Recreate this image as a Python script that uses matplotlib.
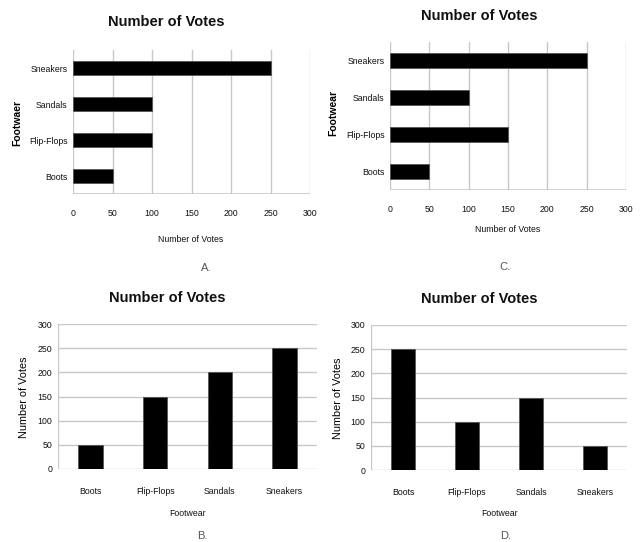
import matplotlib
matplotlib.use("Agg")
import matplotlib.pyplot as plt
import numpy as np

plt.rcParams['font.family'] = ['Liberation Sans', 'DejaVu Sans']

footwear = ['Boots', 'Flip-Flops', 'Sandals', 'Sneakers']

votes_a = [50, 100, 100, 250]
votes_b = [50, 150, 200, 250]
votes_c = [50, 150, 100, 250]
votes_d = [250, 100, 150, 50]

value_ticks = [0, 50, 100, 150, 200, 250, 300]

W, H = 642, 542
GRID = '#c8c8c8'

fig = plt.figure(figsize=(W / 100, H / 100), dpi=100)


def box(left, top, right, bottom):
    # pixel box -> figure fraction rect
    return [left / W, 1 - bottom / H, (right - left) / W, (bottom - top) / H]


def put(x, y, s, **kw):
    fig.text(x / W, 1 - y / H, s, ha='center', va='center', **kw)


def style(ax):
    for side in ax.spines.values():
        side.set_visible(False)
    ax.tick_params(length=0, labelsize=6.3, pad=4, labelcolor='#111111')
    ax.set_axisbelow(True)


def hbar_panel(rect, values):
    ax = fig.add_axes(box(*rect))
    pos = np.arange(len(footwear))
    ax.barh(pos, values, height=0.38, color='black', edgecolor='#555555', linewidth=0.6)
    ax.set_xlim(0, 300)
    ax.set_ylim(-0.5, len(footwear) - 0.5)
    ax.set_xticks(value_ticks)
    ax.set_yticks(pos, footwear)
    ax.grid(axis='x', color=GRID, linewidth=1)
    style(ax)
    ax.tick_params(axis='x', pad=11)
    ax.axhline(-0.5, color=GRID, linewidth=1.2)
    return ax


def vbar_panel(rect, values):
    ax = fig.add_axes(box(*rect))
    pos = np.arange(len(footwear))
    ax.bar(pos, values, width=0.38, color='black', edgecolor='#555555', linewidth=0.6)
    ax.set_ylim(0, 300)
    ax.set_xlim(-0.5, len(footwear) - 0.5)
    ax.set_yticks(value_ticks)
    ax.set_xticks(pos, footwear)
    ax.grid(axis='y', color=GRID, linewidth=1)
    style(ax)
    ax.tick_params(axis='x', pad=13)
    ax.axvline(-0.5, color=GRID, linewidth=1)
    return ax


title_kw = dict(fontsize=10.5, fontweight='bold', color='#111111')
label_kw = dict(fontsize=6.3, color='#111111')
letter_kw = dict(fontsize=8, color='#555555')

# A: horizontal bars
hbar_panel((73, 50, 310, 194), votes_a)
put(166, 22, 'Number of Votes', **title_kw)
put(17, 123, 'Footwaer', rotation=90, fontsize=7.5, fontweight='bold')
put(191, 239, 'Number of Votes', **label_kw)
put(206, 268, 'A.', **letter_kw)

# C: horizontal bars
hbar_panel((390, 42, 626, 190), votes_c)
put(479, 16, 'Number of Votes', **title_kw)
put(333, 113, 'Footwear', rotation=90, fontsize=7.5, fontweight='bold')
put(508, 230, 'Number of Votes', **label_kw)
put(505, 267, 'C.', **letter_kw)

# B: vertical bars
vbar_panel((58, 324, 317, 469), votes_b)
put(167, 298, 'Number of Votes', **title_kw)
put(24, 397, 'Number of Votes', rotation=90, fontsize=7.8)
put(188, 513, 'Footwear', **label_kw)
put(202, 536, 'B.', **letter_kw)

# D: vertical bars
vbar_panel((371, 325, 627, 470), votes_d)
put(479, 299, 'Number of Votes', **title_kw)
put(338, 398, 'Number of Votes', rotation=90, fontsize=7.8)
put(500, 514, 'Footwear', **label_kw)
put(506, 536, 'D.', **letter_kw)

fig.savefig('out.png', dpi=100)
